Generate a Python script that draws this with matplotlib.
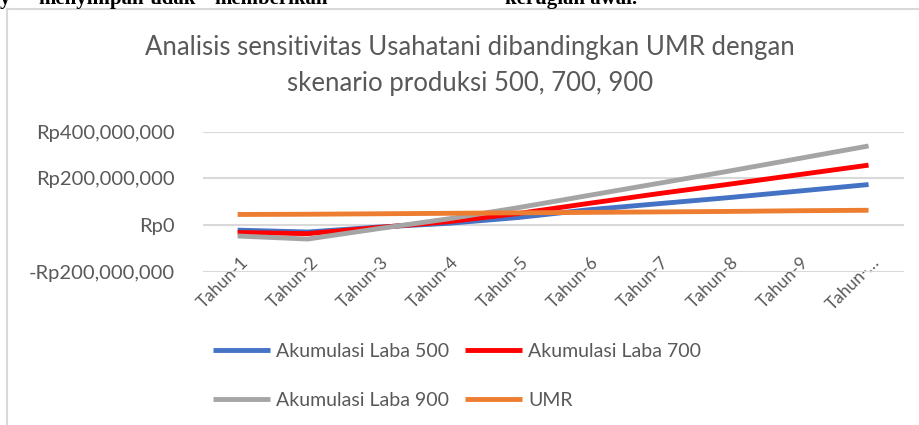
import numpy as np
import matplotlib.pyplot as plt
from matplotlib.transforms import ScaledTranslation

# data (values in Rupiah)
tahun = ['Tahun-1', 'Tahun-2', 'Tahun-3', 'Tahun-4', 'Tahun-5',
         'Tahun-6', 'Tahun-7', 'Tahun-8', 'Tahun-9', 'Tahun-…']
laba_500 = [-21e6, -29e6, -8e6, 8e6, 33e6, 66e6, 92e6, 118e6, 146e6, 174e6]
laba_700 = [-31e6, -36e6, -10e6, 15e6, 50e6, 93e6, 135e6, 175e6, 216e6, 257e6]
laba_900 = [-46e6, -59e6, -15e6, 27e6, 75e6, 127e6, 179e6, 231e6, 285e6, 339e6]
umr = [46e6, 47e6, 49e6, 51e6, 53e6, 55e6, 57e6, 59e6, 62e6, 64e6]
y_ticks = [-200e6, 0, 200e6, 400e6]

W, H = 920, 425
font = 'Lato'
grey_txt = '#595959'

fig = plt.figure(figsize=(W / 100, H / 100), dpi=100)
ax = fig.add_axes([202.6 / W, 1 - 272 / H, 701 / W, 140.3 / H])

x = np.arange(len(tahun))
l500, = ax.plot(x, laba_500, color='#4472C4', lw=3.5, solid_capstyle='butt', label='Akumulasi Laba 500')
l700, = ax.plot(x, laba_700, color='#FF0000', lw=3.5, solid_capstyle='butt', label='Akumulasi Laba 700')
l900, = ax.plot(x, laba_900, color='#A5A5A5', lw=3.5, solid_capstyle='butt', label='Akumulasi Laba 900')
lumr, = ax.plot(x, umr, color='#ED7D31', lw=3.5, solid_capstyle='butt', label='UMR')

ax.set_xlim(-0.5, len(tahun) - 0.5)
ax.set_ylim(-200e6, 400e6)
ax.set_yticks(y_ticks)
ax.set_yticklabels([('-Rp' if v < 0 else 'Rp') + f'{abs(int(v)):,}' for v in y_ticks],
                   fontfamily=font, fontsize=14.5, color=grey_txt)
ax.yaxis.grid(True, color='#D9D9D9', lw=1.5)
ax.set_axisbelow(True)
ax.tick_params(axis='y', length=0, pad=20)

# category labels sit next to the zero line, like Excel does
ax.spines['bottom'].set_position(('data', 0))
for s in ax.spines.values():
    s.set_visible(False)
ax.set_xticks(x)
ax.set_xticklabels(tahun, rotation=45, ha='right', va='center', rotation_mode='anchor',
                   fontfamily=font, fontsize=12.5, color=grey_txt)
ax.tick_params(axis='x', length=0, pad=25)
for lbl in ax.get_xticklabels():
    lbl.set_transform(lbl.get_transform() + ScaledTranslation(0.08, 0, fig.dpi_scale_trans))

fig.text(0.511, 1 - 47 / H, 'Analisis sensitivitas Usahatani dibandingkan UMR dengan',
         ha='center', va='center', fontfamily=font, fontsize=18.5, color=grey_txt)
fig.text(0.511, 1 - 83 / H, 'skenario produksi 500, 700, 900',
         ha='center', va='center', fontfamily=font, fontsize=18.5, color=grey_txt)

# row-wise legend order: 500, 700 / 900, UMR
fig.legend([l500, l900, l700, lumr], [l.get_label() for l in (l500, l900, l700, lumr)],
           loc='upper left', bbox_to_anchor=(213 / W, 1 - 343 / H), ncol=2, frameon=False,
           prop={'family': font, 'size': 14}, labelcolor=grey_txt, borderpad=0, borderaxespad=0,
           handlelength=2.95, handletextpad=0.3, columnspacing=0.8, labelspacing=1.65)

# chart frame and the cut-off document line above it
fig.add_artist(plt.Line2D([7 / W, 7 / W], [0, 1 - 9 / H], color='#D9D9D9', lw=1.5))
fig.add_artist(plt.Line2D([7 / W, 1], [1 - 9 / H, 1 - 9 / H], color='#D9D9D9', lw=1.5))
for px, word in [(0, 'y'), (38, 'menyimpan'), (150, 'tidak'), (214, 'memberikan'), (505, 'kerugian awal.')]:
    fig.text(px / W, 1 - 4 / H, word, ha='left', va='baseline',
             fontfamily='Liberation Serif', fontsize=15, fontweight='bold', color='black')

fig.savefig('out.png', dpi=100)
